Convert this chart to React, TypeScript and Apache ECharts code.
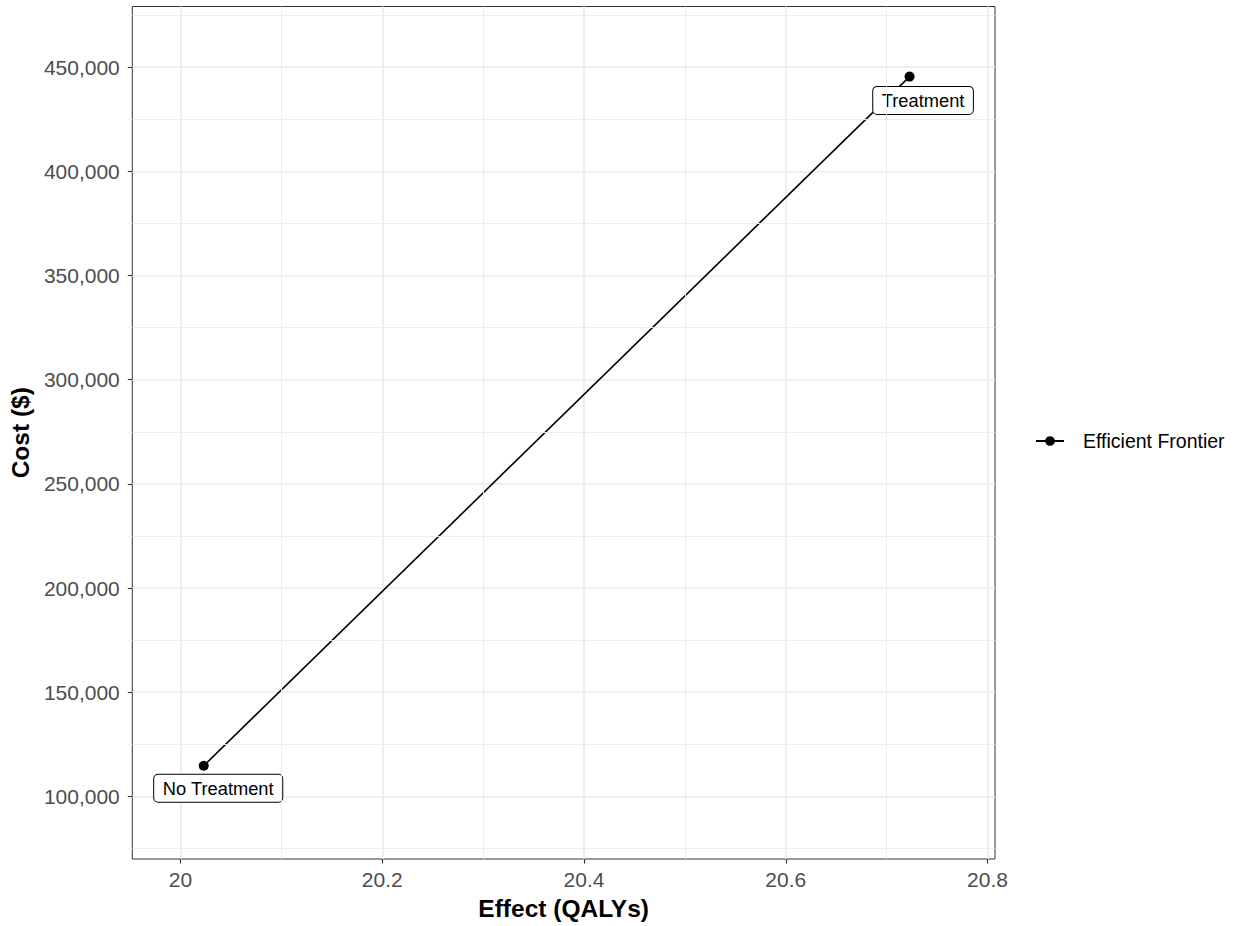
import React, { useEffect, useRef } from "react";
import * as echarts from "echarts";

// ---- data ----
const strategies = ["No Treatment", "Treatment"];
const effects = [20.023, 20.7227];
const costs = [114700, 445500];
const seriesName = "Efficient Frontier";

// ---- axes ----
const xRange = [19.9522, 20.8074];
const yRange = [69940, 479150];
const xTicks = [20, 20.2, 20.4, 20.6, 20.8];
const yTicks = [100000, 150000, 200000, 250000, 300000, 350000, 400000, 450000];
const xMinor = [20.1, 20.3, 20.5, 20.7];
const yMinor = [75000, 125000, 175000, 225000, 275000, 325000, 375000, 425000, 475000];

const labelOffsets = [
  [14.5, 22.5],
  [13.5, 23.8],
];

const FONT = "'Liberation Sans', Arial, sans-serif";

export default function App() {
  const ref = useRef<HTMLDivElement>(null);
  useEffect(() => {
    if (!ref.current) return;
    const chart = echarts.init(ref.current, undefined, { renderer: "svg" });
    const gridStyle = { color: "#ebebeb", width: 1.7 };
    chart.setOption({
      animation: false,
      backgroundColor: "#ffffff",
      textStyle: { fontFamily: FONT },
      grid: {
        left: 130,
        top: 6.5,
        right: 243,
        bottom: 66,
        show: true,
        borderColor: "#333333",
        borderWidth: 1,
        backgroundColor: "transparent",
      },
      legend: {
        data: [seriesName],
        left: 1035,
        top: 431,
        padding: 0,
        itemWidth: 28,
        itemHeight: 12,
        textStyle: {
          fontFamily: FONT,
          fontSize: 19.5,
          color: "#000000",
          padding: [0, 0, 0, 14],
        },
      },
      xAxis: {
        type: "value",
        min: xRange[0],
        max: xRange[1],
        splitNumber: 4,
        name: "Effect (QALYs)",
        nameLocation: "middle",
        nameGap: 37,
        nameTextStyle: {
          fontFamily: FONT,
          fontSize: 24.5,
          fontWeight: "bold",
          color: "#000000",
        },
        axisLine: { show: false },
        axisTick: {
          show: true,
          length: 4.5,
          customValues: xTicks,
          lineStyle: { color: "#333333", width: 1.1 },
        },
        axisLabel: {
          customValues: xTicks,
          margin: 10,
          fontSize: 21,
          color: "#4d4d4d",
          fontFamily: FONT,
          formatter: (v: number) => String(Math.round(v * 10) / 10),
        },
        splitLine: { show: true, lineStyle: gridStyle },
      },
      yAxis: {
        type: "value",
        min: yRange[0],
        max: yRange[1],
        splitNumber: 8,
        name: "Cost ($)",
        nameLocation: "middle",
        nameGap: 96,
        nameTextStyle: {
          fontFamily: FONT,
          fontSize: 24.5,
          fontWeight: "bold",
          color: "#000000",
        },
        axisLine: { show: false },
        axisTick: {
          show: true,
          length: 4.5,
          customValues: yTicks,
          lineStyle: { color: "#333333", width: 1.1 },
        },
        axisLabel: {
          customValues: yTicks,
          margin: 12.5,
          fontSize: 21,
          color: "#4d4d4d",
          fontFamily: FONT,
          formatter: (v: number) => Math.round(v).toLocaleString("en-US"),
        },
        splitLine: { show: true, lineStyle: gridStyle },
      },
      series: [
        {
          name: "minor-grid",
          type: "line",
          data: [],
          z: 1,
          silent: true,
          markLine: {
            silent: true,
            symbol: ["none", "none"],
            label: { show: false },
            lineStyle: { color: "#ebebeb", width: 0.9, type: "solid" },
            data: [
              ...xMinor.map((v) => ({ xAxis: v })),
              ...yMinor.map((v) => ({ yAxis: v })),
            ],
          },
        },
        {
          name: seriesName,
          type: "line",
          z: 3,
          symbol: "circle",
          symbolSize: 10,
          itemStyle: { color: "#000000" },
          lineStyle: { color: "#000000", width: 1.6 },
          data: strategies.map((s, i) => ({
            name: s,
            value: [effects[i], costs[i]],
            label: {
              show: true,
              position: "inside",
              offset: labelOffsets[i],
              formatter: s,
              fontFamily: FONT,
              fontSize: 18.3,
              color: "#000000",
              backgroundColor: "#ffffff",
              borderColor: "#000000",
              borderWidth: 1,
              borderRadius: 4,
              padding: [5, 8.5, 4, 8.5],
            },
          })),
        },
      ],
    });
    return () => chart.dispose();
  }, []);
  return (
    <div
      ref={ref}
      style={{ position: "absolute", left: 0, top: 0, width: 1238, height: 926 }}
    />
  );
}
